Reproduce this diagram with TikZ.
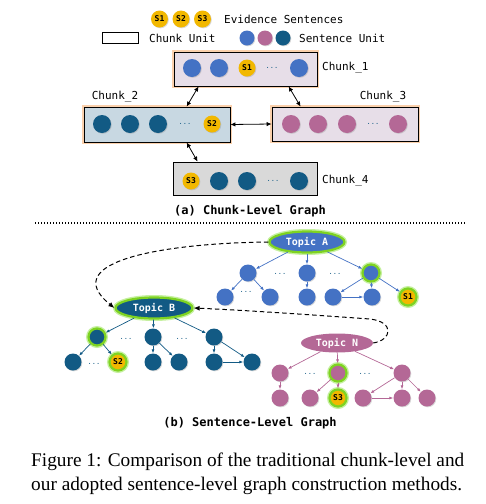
\documentclass[tikz,border=0pt]{standalone}
\usepackage{fontspec}
\setmainfont{Liberation Serif}
\newfontfamily\mono{DejaVu Sans Mono}
\usetikzlibrary{arrows.meta,shadows,shapes.geometric}
\definecolor{cblue}{HTML}{4472C4}
\definecolor{cdark}{HTML}{125A84}
\definecolor{cpink}{HTML}{B46896}
\definecolor{cgold}{HTML}{F2B800}
\definecolor{cgreen}{HTML}{7ED321}
\definecolor{cglow}{HTML}{C6F0A0}
\definecolor{corange}{HTML}{FAD0AC}
\definecolor{fillone}{HTML}{E7DEE8}
\definecolor{filltwo}{HTML}{C8D8E2}
\definecolor{fillfour}{HTML}{D9D9D9}
\tikzset{
  sent/.style={circle, minimum size=17pt, inner sep=0pt, fill=#1,
    drop shadow={shadow xshift=0.8pt, shadow yshift=-0.8pt, opacity=0.3}},
  evid/.style={circle, minimum size=17pt, inner sep=0pt, fill=cgold,
    font=\mono\bfseries\fontsize{8}{8}\selectfont,
    drop shadow={shadow xshift=0.8pt, shadow yshift=-0.8pt, opacity=0.3}},
  glowing/.style={draw=cgreen, line width=2.2pt,
    preaction={draw=cglow, line width=5pt}},
  chunkbox/.style={rectangle, draw=black, line width=0.8pt, fill=#1,
    preaction={draw=corange, line width=4pt}},
  topic/.style={ellipse, inner sep=0pt, fill=#1, text=white,
    font=\mono\bfseries\fontsize{10}{10}\selectfont},
  lbl/.style={font=\mono\fontsize{11}{11}\selectfont, inner sep=0pt},
  subcap/.style={font=\mono\bfseries\fontsize{12}{12}\selectfont, inner sep=0pt},
  dots/.style={font=\mono\fontsize{7}{7}\selectfont, text=cdark, inner sep=0pt},
  dbl/.style={{Latex[length=5pt,width=4.5pt]}-{Latex[length=5pt,width=4.5pt]}, line width=0.8pt},
  tedge/.style={-{Latex[length=4pt,width=3pt]}, line width=0.7pt, draw=#1},
  dashcurve/.style={dash pattern=on 4.5pt off 3pt, line width=1pt, -{Latex[length=6pt,width=5pt]}}
}
\begin{document}
\begin{tikzpicture}[x=1pt,y=-1pt]
\useasboundingbox (0,0) rectangle (486,504);
% legend
\node[evid] (l1) at (159.5,19) {S1};
\node[evid] (l2) at (181,19) {S2};
\node[evid] (l3) at (202.5,19) {S3};
\node[lbl, anchor=west] (ltxt1) at (224,19) {Evidence Sentences};
\node[draw=black, line width=0.6pt, minimum width=36pt, minimum height=11pt, inner sep=0pt] (lbox) at (120,37.5) {};
\node[lbl, anchor=west] (ltxt2) at (149,38) {Chunk Unit};
\node[sent=cblue, minimum size=15pt] (ls1) at (247,38) {};
\node[sent=cpink, minimum size=15pt] (ls2) at (265,38) {};
\node[sent=cdark, minimum size=15pt] (ls3) at (283,38) {};
\node[lbl, anchor=west] (ltxt3) at (299,38) {Sentence Unit};

% chunk boxes
\node[chunkbox=fillone, minimum width=143pt, minimum height=34pt] (c1) at (245.5,69) {};
\node[chunkbox=filltwo, minimum width=146pt, minimum height=35pt] (c2) at (157,124.5) {};
\node[chunkbox=fillone, minimum width=146pt, minimum height=34pt] (c3) at (345,124) {};
\node[rectangle, draw=black, line width=0.8pt, fill=fillfour, minimum width=144pt, minimum height=33pt] (c4) at (245,178.5) {};

% chunk 1 sentences
\node[sent=cblue, minimum size=18pt] (a1) at (192,68) {};
\node[sent=cblue, minimum size=18pt] (a2) at (219,68) {};
\node[evid] (a3) at (247,68) {S1};
\node[dots] (a4) at (272,68) {...};
\node[sent=cblue, minimum size=18pt] (a5) at (299,68) {};
% chunk 2
\node[sent=cdark, minimum size=18pt] (b1) at (102,124) {};
\node[sent=cdark, minimum size=18pt] (b2) at (130,124) {};
\node[sent=cdark, minimum size=18pt] (b3) at (158,124) {};
\node[dots] (b4) at (185,124) {...};
\node[evid] (b5) at (212,124) {S2};
% chunk 3
\node[sent=cpink, minimum size=18pt] (d1) at (291,124) {};
\node[sent=cpink, minimum size=18pt] (d2) at (318,124) {};
\node[sent=cpink, minimum size=18pt] (d3) at (347,124) {};
\node[dots] (d4) at (373,124) {...};
\node[sent=cpink, minimum size=18pt] (d5) at (398,124) {};
% chunk 4
\node[evid] (e1) at (191,181) {S3};
\node[sent=cdark, minimum size=18pt] (e2) at (219,181) {};
\node[sent=cdark, minimum size=18pt] (e3) at (247,181) {};
\node[dots] (e4) at (273,181) {...};
\node[sent=cdark, minimum size=18pt] (e5) at (299,181) {};

% chunk labels
\node[lbl, anchor=west] (n1) at (322,68) {Chunk\_1};
\node[lbl] (n2) at (115,97) {Chunk\_2};
\node[lbl] (n3) at (383,97) {Chunk\_3};
\node[lbl, anchor=west] (n4) at (322,181) {Chunk\_4};

% chunk arrows
\draw[dbl] ([xshift=25pt]c1.south west) -- ([xshift=103pt]c2.north west);
\draw[dbl] ([xshift=115pt]c1.south west) -- ([xshift=29pt]c3.north west);
\draw[dbl] (c2.east) -- (c3.west);
\draw[dbl] ([xshift=103pt]c2.south west) -- ([xshift=25pt]c4.north west);

\node[subcap] (capa) at (250,211) {(a) Chunk-Level Graph};

% separator
\draw[line width=1.5pt, dash pattern=on 1.2pt off 1.8pt] (35,223) -- (465,223);

% Topic A tree
\node[topic=cblue, glowing, minimum width=75pt, minimum height=21pt] (tA) at (307,242) {Topic A};
\node[sent=cblue] (A1) at (248,273) {};
\node[sent=cblue] (A2) at (307,273) {};
\node[sent=cblue, glowing] (A3) at (371,273) {};
\node[dots] (Ad1) at (280,274) {...};
\node[dots] (Ad2) at (335,274) {...};
\node[sent=cblue] (A11) at (225,297) {};
\node[dots] (Ad3) at (246,292) {...};
\node[sent=cblue] (A12) at (270,297) {};
\node[sent=cblue] (A21) at (307,297) {};
\node[sent=cblue] (A31) at (333,297) {};
\node[sent=cblue] (A32) at (372,297) {};
\node[evid, glowing] (A33) at (408,297) {S1};
\draw[tedge=cblue] (tA) -- (A1);
\draw[tedge=cblue] (tA) -- (A2);
\draw[tedge=cblue] (tA) -- (A3);
\draw[tedge=cblue] (A1) -- (A11);
\draw[tedge=cblue] (A1) -- (A12);
\draw[tedge=cblue] (A2) -- (A21);
\draw[tedge=cblue] (A3) -- (A31);
\draw[tedge=cblue] (A3) -- (A32);
\draw[tedge=cblue] (A3) -- (A33);
\draw[tedge=cblue] (A31) -- (A32);

% Topic B tree
\node[topic=cdark, glowing, minimum width=77pt, minimum height=21pt] (tB) at (154,308) {Topic B};
\node[sent=cdark, glowing] (B1) at (97,337) {};
\node[sent=cdark] (B2) at (153,337) {};
\node[sent=cdark] (B3) at (214,337) {};
\node[dots] (Bd1) at (126,339) {...};
\node[dots] (Bd2) at (182,339) {...};
\node[sent=cdark] (B11) at (73,362) {};
\node[dots] (Bd3) at (94,364) {...};
\node[evid, glowing] (B12) at (118,362) {S2};
\node[sent=cdark] (B21) at (153,362) {};
\node[sent=cdark] (B22) at (179,362) {};
\node[sent=cdark] (B31) at (214,362) {};
\node[sent=cdark] (B32) at (252,362) {};
\draw[tedge=cdark] (tB) -- (B1);
\draw[tedge=cdark] (tB) -- (B2);
\draw[tedge=cdark] (tB) -- (B3);
\draw[tedge=cdark] (B1) -- (B11);
\draw[tedge=cdark] (B1) -- (B12);
\draw[tedge=cdark] (B2) -- (B21);
\draw[tedge=cdark] (B2) -- (B22);
\draw[tedge=cdark] (B3) -- (B31);
\draw[tedge=cdark] (B3) -- (B32);
\draw[tedge=cdark] (B31) -- (B32);

% Topic N tree
\node[topic=cpink, minimum width=72pt, minimum height=19pt] (tN) at (337,343) {Topic N};
\node[sent=cpink] (N1) at (280,373) {};
\node[sent=cpink, glowing] (N2) at (338,373) {};
\node[sent=cpink] (N3) at (402,373) {};
\node[dots] (Nd1) at (310,374) {...};
\node[dots] (Nd2) at (365,374) {...};
\node[sent=cpink] (N11) at (280,398) {};
\node[sent=cpink] (N21) at (310,398) {};
\node[evid, glowing] (N22) at (338,398) {S3};
\node[sent=cpink] (N31) at (363,398) {};
\node[sent=cpink] (N32) at (402,398) {};
\node[sent=cpink] (N33) at (427,398) {};
\draw[tedge=cpink] (tN) -- (N1);
\draw[tedge=cpink] (tN) -- (N2);
\draw[tedge=cpink] (tN) -- (N3);
\draw[tedge=cpink] (N1) -- (N11);
\draw[tedge=cpink] (N2) -- (N21);
\draw[tedge=cpink] (N2) -- (N22);
\draw[tedge=cpink] (N3) -- (N31);
\draw[tedge=cpink] (N3) -- (N32);
\draw[tedge=cpink] (N3) -- (N33);
\draw[tedge=cpink] (N31) -- (N32);

% dashed links between topics
\draw[dashcurve] (tA.west) .. controls (170,243) and (55,260) .. (tB.west);
\draw[dashcurve] (tN.east) .. controls (392,340) and (395,322) .. (370,319) .. controls (300,314) and (240,310) .. (tB.east);

\node[subcap] (capb) at (250,423) {(b) Sentence-Level Graph};

% caption
\node[anchor=west, inner sep=0pt, font=\fontsize{19.3}{19.3}\selectfont] (f1) at (31,462) {Figure 1: Comparison of the traditional chunk-level and};
\node[anchor=west, inner sep=0pt, font=\fontsize{19.3}{19.3}\selectfont] (f2) at (31,486) {our adopted sentence-level graph construction methods.};
\end{tikzpicture}
\end{document}
